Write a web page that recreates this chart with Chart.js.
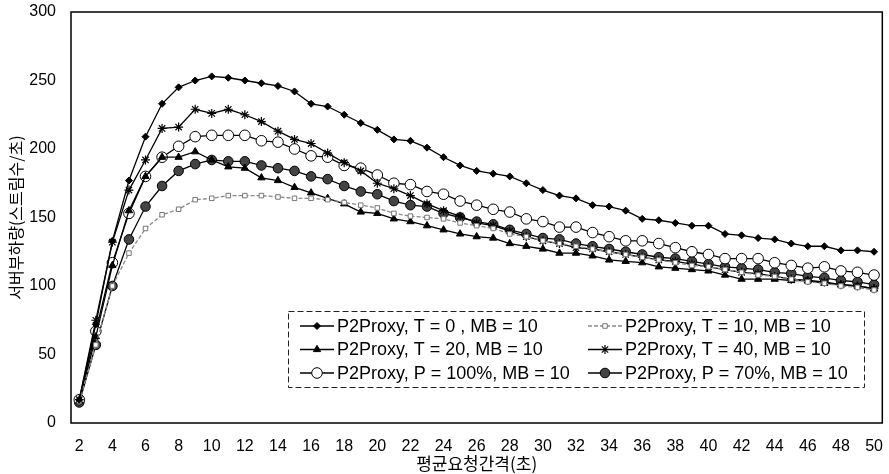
<!DOCTYPE html>
<html><head><meta charset="utf-8">
<script src="https://cdn.jsdelivr.net/npm/chart.js@4.4.1/dist/chart.umd.min.js"></script>
<style>html,body{margin:0;padding:0;background:#fff}#wrap{width:889px;height:474px;position:relative}</style>
</head><body><div id="wrap"><canvas id="c" width="889" height="474"></canvas></div>
<script>
const categories = [2,3,4,5,6,7,8,9,10,11,12,13,14,15,16,17,18,19,20,21,22,23,24,25,26,27,28,29,30,31,32,33,34,35,36,37,38,39,40,41,42,43,44,45,46,47,48,49,50];
const xTickLabels = ['2','4','6','8','10','12','14','16','18','20','22','24','26','28','30','32','34','36','38','40','42','44','46','48','50'];
const yTicks = [0,50,100,150,200,250,300];
const seriesNames = ['P2Proxy, T = 0 , MB = 10','P2Proxy, T = 10, MB = 10','P2Proxy, T = 20, MB = 10','P2Proxy, T = 40, MB = 10','P2Proxy, P = 100%, MB = 10','P2Proxy, P = 70%, MB = 10'];
const t0   = [17,72,133,177,209,233,245,250,253,252,250,248,246,242,233,231,225,219,214,207,206,201,194,188,184,182,180,175,170,166,164,159,158,155,149,148,146,144,144,138,137,135,134,131,129,129,126,126,125];
const t10  = [16,57,100,124,142,152,156,163,164,166,166,166,165,164,164,163,161,159,157,153,151,150,149,146,144,142,138,136,133,131,129,127,125,123,121,119,117,115,114,112,110,108,107,105,103,102,100,99,97];
const t20  = [16,63,115,155,180,194,194,198,192,187,186,179,177,172,168,164,160,154,153,149,147,144,141,138,136,135,131,129,127,124,124,122,119,118,117,114,113,112,111,108,105,105,105,104,104,102,101,100,98];
const t40  = [17,75,132,170,192,215,216,229,226,229,225,220,213,207,204,197,190,184,175,171,166,160,155,151,146,144,140,136,133,131,128,127,125,123,121,119,118,116,114,112,110,109,107,105,104,103,101,100,98];
const p100 = [17,67,117,153,180,194,202,209,210,210,210,206,205,200,195,194,188,186,181,175,174,169,167,162,159,156,154,149,147,143,143,139,136,133,133,131,128,125,123,120,120,120,117,115,113,114,111,110,108];
const p70  = [15,57,100,134,158,173,184,189,192,191,191,188,186,184,180,178,173,169,167,162,159,158,153,150,147,145,141,138,135,134,131,129,127,125,123,121,120,118,116,114,113,112,110,109,107,106,104,103,101];
const xTitle = '평균요청간격(초)';
const yTitle = '서버부하량(스트림수/초)';

const FONT = '"Liberation Sans", Arial, "Noto Sans CJK KR", sans-serif';
const NARROW = '"Liberation Sans Narrow", "Liberation Sans", "Noto Sans CJK KR", sans-serif';
const KFONT = '"Noto Sans CJK KR", sans-serif';

function ds(label, data, o){
  return Object.assign({label, data, borderColor:'#000', borderWidth:1.3, pointBorderColor:'#000', pointBackgroundColor:'#000', pointBorderWidth:1, tension:0, fill:false}, o);
}
const datasets = [
  ds(seriesNames[0], t0,   {pointStyle:'rectRot', pointRadius:3.5}),
  ds(seriesNames[1], t10,  {pointStyle:'rect', pointRadius:3.2, borderColor:'#8a8a8a', borderDash:[4,2], pointBorderColor:'#777', pointBackgroundColor:'#fff'}),
  ds(seriesNames[2], t20,  {pointStyle:'triangle', pointRadius:4.2}),
  ds(seriesNames[3], t40,  {pointStyle:'star', pointRadius:4.5, pointBorderWidth:1.2}),
  ds(seriesNames[4], p100, {pointStyle:'circle', pointRadius:5.3, pointBackgroundColor:'#fff'}),
  ds(seriesNames[5], p70,  {pointStyle:'circle', pointRadius:4.8, pointBackgroundColor:'#444'})
];

const framePlugin = {
  id:'frame',
  beforeDatasetsDraw(chart){
    const a = chart.chartArea, ctx = chart.ctx;
    ctx.save(); ctx.strokeStyle='#000'; ctx.lineWidth=1.5;
    ctx.strokeRect(a.left, a.top, a.right-a.left, a.bottom-a.top);
    ctx.restore();
  }
};
const legendPlugin = {
  id:'boxLegend',
  afterDatasetsDraw(chart){
    const ctx = chart.ctx;
    ctx.save();
    const bx=288, by=311, bw=576, bh=76;
    ctx.fillStyle='#fff'; ctx.fillRect(bx,by,bw,bh);
    ctx.setLineDash([6,3]); ctx.strokeStyle='#222'; ctx.lineWidth=1;
    ctx.strokeRect(bx+0.5,by+0.5,bw,bh);
    ctx.setLineDash([]);
    chart.data.datasets.forEach((d,i)=>{
      const col=i%2, row=Math.floor(i/2);
      const x0 = col ? 588 : 300;
      const y = by + 15 + row*23.5;
      ctx.strokeStyle=d.borderColor; ctx.lineWidth=d.borderWidth; ctx.setLineDash(d.borderDash||[]);
      ctx.beginPath(); ctx.moveTo(x0,y); ctx.lineTo(x0+34,y); ctx.stroke(); ctx.setLineDash([]);
      ctx.fillStyle=d.pointBackgroundColor; ctx.strokeStyle=d.pointBorderColor; ctx.lineWidth=d.pointBorderWidth;
      Chart.helpers.drawPoint(ctx,{pointStyle:d.pointStyle, radius:d.pointRadius, borderWidth:d.pointBorderWidth, rotation:0}, x0+17, y);
      ctx.fillStyle='#000'; ctx.font='18px '+FONT; ctx.textBaseline='middle'; ctx.textAlign='left';
      ctx.fillText(d.label, x0+37, y+1);
    });
    ctx.restore();
  }
};

new Chart(document.getElementById('c'), {
  type:'line',
  data:{labels:categories.map(String), datasets},
  plugins:[framePlugin, legendPlugin],
  options:{
    responsive:false, animation:false, devicePixelRatio:1,
    layout:{padding:{left:0, top:12, right:4, bottom:0}},
    plugins:{legend:{display:false}, tooltip:{enabled:false}},
    scales:{
      x:{
        type:'category', offset:true,
        grid:{display:false}, border:{display:false},
        ticks:{autoSkip:false, maxRotation:0, minRotation:0, padding:6, color:'#000',
          font:{family:NARROW, size:16},
          callback:function(v){const l=this.getLabelForValue(v); return xTickLabels.includes(l)?l:'';}},
        title:{display:true, text:xTitle, color:'#000', font:{family:KFONT, size:17}, padding:{top:0,bottom:0}},
        afterFit:(s)=>{s.height=51;}
      },
      y:{
        min:0, max:300,
        grid:{display:false}, border:{display:false},
        afterBuildTicks:(s)=>{s.ticks=yTicks.map(v=>({value:v}));},
        ticks:{padding:7, color:'#000', font:{family:NARROW, size:16, lineHeight:1}},
        title:{display:true, text:yTitle, color:'#000', font:{family:KFONT, size:16}, padding:{top:6,bottom:0}},
        afterFit:(s)=>{s.width=71; s.paddingTop=0;}
      }
    }
  }
});
</script></body></html>
